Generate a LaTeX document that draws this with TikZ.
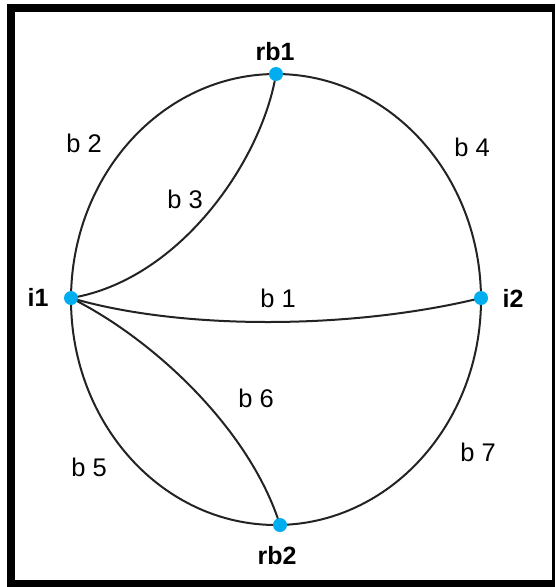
\documentclass[tikz,border=0pt]{standalone}
\usepackage{fontspec}
\setmainfont{Liberation Sans}
\definecolor{dotblue}{RGB}{0,174,239}
\definecolor{edgegray}{RGB}{35,35,35}
\begin{document}
\begin{tikzpicture}[x=1pt,y=-1pt,
  vtx/.style={circle,fill=dotblue,inner sep=0pt,minimum size=14pt},
  vlabel/.style={font=\fontsize{25}{25}\selectfont\bfseries,inner sep=0pt},
  elabel/.style={font=\fontsize{25.5}{25.5}\selectfont,inner sep=0pt},
  edge/.style={draw=edgegray,line width=2pt}]
\useasboundingbox (0,0) rectangle (555,587);
\fill[white] (0,0) rectangle (555,587);
\fill[black] (7,4) rectangle (555,587);
\fill[white] (15,12) rectangle (552,580);
% outer ellipse
\draw[edge] (276,299.5) ellipse [x radius=205, y radius=225.5];
% vertices
\coordinate (i1) at (71,298);
\coordinate (i2) at (481,298);
\coordinate (rb1) at (276,74);
\coordinate (rb2) at (280,525);
% inner edges
\draw[edge] (i1) .. controls (180,280) and (262,160) .. (rb1);
\draw[edge] (i1) .. controls (180,330) and (350,330) .. (i2);
\draw[edge] (i1) .. controls (155,340) and (250,430) .. (rb2);
\node[vtx] (n1) at (i1) {};
\node[vtx] (n2) at (i2) {};
\node[vtx] (n3) at (rb1) {};
\node[vtx] (n4) at (rb2) {};
% vertex labels
\node[vlabel] (li1) at (38,297) {i1};
\node[vlabel] (li2) at (513,298) {i2};
\node[vlabel] (lrb1) at (275,52) {rb1};
\node[vlabel] (lrb2) at (277,556) {rb2};
% edge labels
\node[elabel] (b1) at (278,298) {b 1};
\node[elabel] (b2) at (84,143) {b 2};
\node[elabel] (b3) at (185,199) {b 3};
\node[elabel] (b4) at (472,147) {b 4};
\node[elabel] (b5) at (89,467) {b 5};
\node[elabel] (b6) at (256,398) {b 6};
\node[elabel] (b7) at (478,452) {b 7};
\end{tikzpicture}
\end{document}
